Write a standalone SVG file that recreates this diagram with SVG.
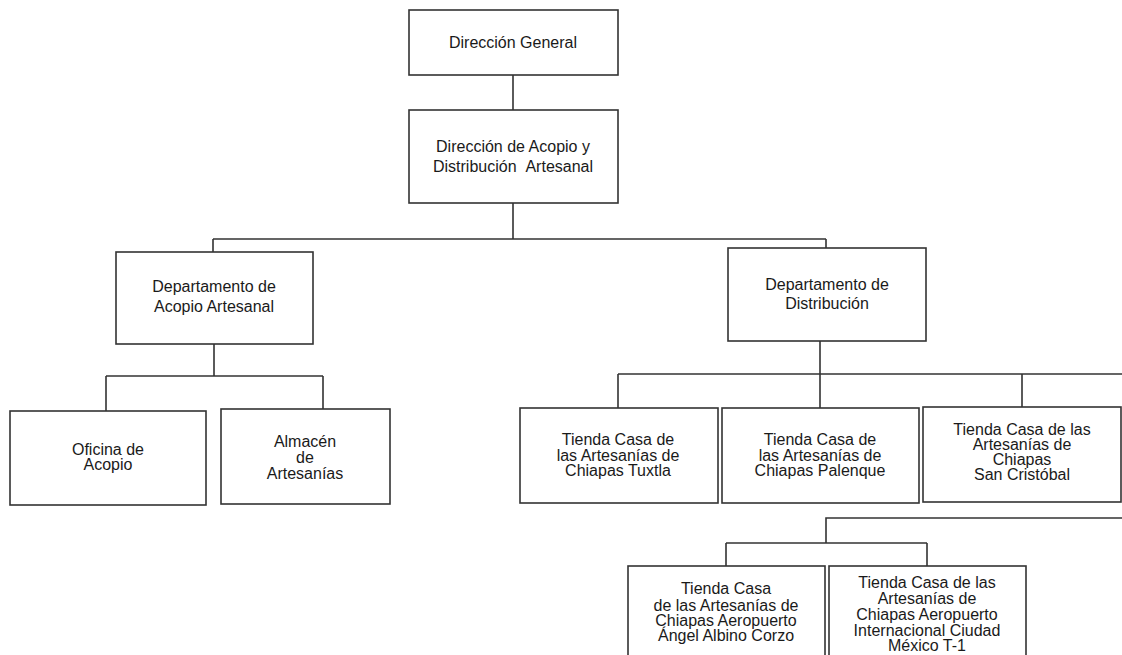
<svg xmlns="http://www.w3.org/2000/svg" width="1122" height="655" viewBox="0 0 1122 655">
<style>
.box{fill:#fff;stroke:#333;stroke-width:1.6}
.ln{fill:none;stroke:#333;stroke-width:1.6}
text{font-family:"Liberation Sans",Arial,sans-serif;font-size:16px;fill:#1a1a1a;text-anchor:middle}
</style>
<rect width="1122" height="655" fill="#fff"/>
<g id="connectors">
<path class="ln" d="M513 75V110"/>
<path class="ln" d="M513 203V239M213 239H826M213 239V252M826 239V248"/>
<path class="ln" d="M214 344V376M106 376H323M106 376V411M323 376V409"/>
<path class="ln" d="M820 341V374M618 374H1122M618 374V408M820 374V408M1022 374V407"/>
<path class="ln" d="M1122 518H826V543M726 543H927M726 543V566M927 543V566"/>
</g>
<g id="n1"><rect class="box" x="409" y="10" width="209" height="65"/><text x="513" y="48">Dirección General</text></g>
<g id="n2"><rect class="box" x="409" y="110" width="209" height="93"/><text x="513" y="152">Dirección de Acopio y</text><text x="513" y="172">Distribución &#160;Artesanal</text></g>
<g id="n3"><rect class="box" x="116" y="252" width="197" height="92"/><text x="214" y="292">Departamento de</text><text x="214" y="312">Acopio Artesanal</text></g>
<g id="n4"><rect class="box" x="728" y="248" width="198" height="93"/><text x="827" y="290">Departamento de</text><text x="827" y="309">Distribución</text></g>
<g id="n5"><rect class="box" x="10" y="411" width="196" height="94"/><text x="108" y="455">Oficina de</text><text x="108" y="470">Acopio</text></g>
<g id="n6"><rect class="box" x="221" y="409" width="169" height="95"/><text x="305" y="447">Almacén</text><text x="305" y="463">de</text><text x="305" y="479">Artesanías</text></g>
<g id="n7"><rect class="box" x="520" y="408" width="198" height="95"/><text x="618" y="445">Tienda Casa de</text><text x="618" y="461">las Artesanías de</text><text x="618" y="476">Chiapas Tuxtla</text></g>
<g id="n8"><rect class="box" x="722" y="408" width="197" height="95"/><text x="820" y="445">Tienda Casa de</text><text x="820" y="461">las Artesanías de</text><text x="820" y="476">Chiapas Palenque</text></g>
<g id="n9"><rect class="box" x="923" y="407" width="198" height="95"/><text x="1022" y="434.5">Tienda Casa de las</text><text x="1022" y="449.5">Artesanías de</text><text x="1022" y="464.5">Chiapas</text><text x="1022" y="479.5">San Cristóbal</text></g>
<g id="n10"><rect class="box" x="628" y="566" width="197" height="100"/><text x="726" y="594">Tienda Casa</text><text x="726" y="611">de las Artesanías de</text><text x="726" y="626">Chiapas Aeropuerto</text><text x="726" y="641">Ángel Albino Corzo</text></g>
<g id="n11"><rect class="box" x="829" y="566" width="197" height="100"/><text x="927" y="588">Tienda Casa de las</text><text x="927" y="604">Artesanías de</text><text x="927" y="620">Chiapas Aeropuerto</text><text x="927" y="636">Internacional Ciudad</text><text x="927" y="651">México T-1</text></g>
</svg>
